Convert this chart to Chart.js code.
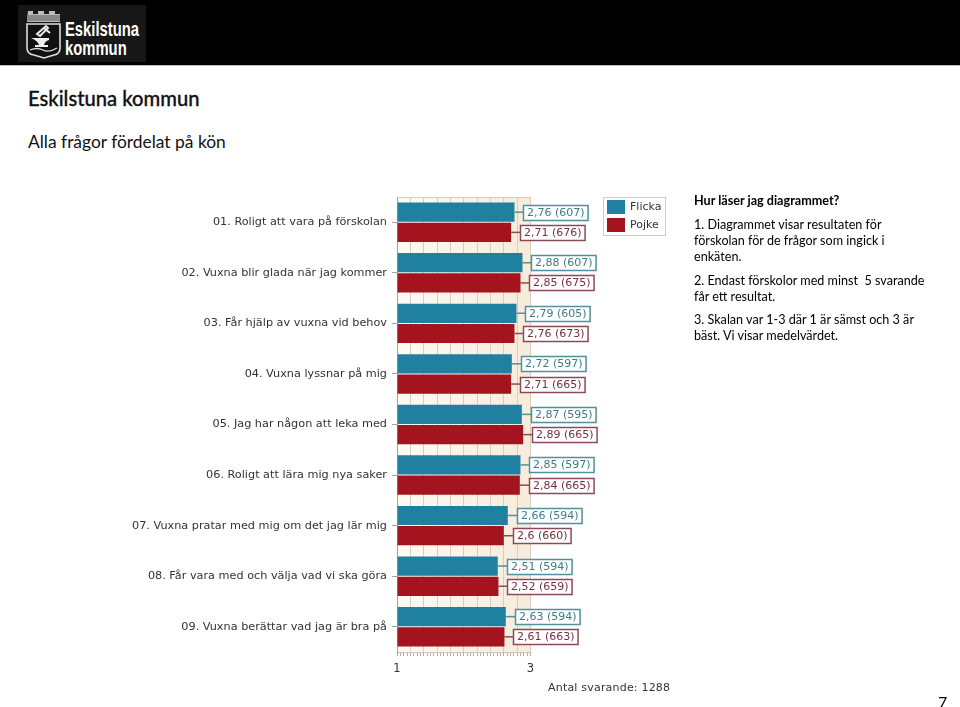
<!DOCTYPE html>
<html lang="sv">
<head>
<meta charset="utf-8">
<title>Eskilstuna kommun</title>
<script src="https://cdn.jsdelivr.net/npm/chart.js@4"></script>
<style>
html,body{margin:0;padding:0;background:#fff;width:960px;height:707px;overflow:hidden}
#hdr{position:absolute;left:0;top:0;width:960px;height:65px;background:#000;border-bottom:1px solid #bbb}
#logo{position:absolute;left:18px;top:5px;width:128px;height:57px;background:#171717}
#logo svg{position:absolute;left:4px;top:1px}
.lg{position:absolute;color:#fff;font-family:"Liberation Sans",sans-serif;font-weight:700;white-space:nowrap;transform-origin:0 0;transform:scaleX(.74)}
.t{position:absolute;font-family:Lato,sans-serif;color:#000;white-space:nowrap}
canvas{position:absolute;left:0;top:0}
#n{position:absolute;left:548px;top:681px;font:11px "DejaVu Sans",sans-serif;color:#333;white-space:nowrap;letter-spacing:.2px}
</style>
</head>
<body>
<div id="hdr"><div id="logo">
<svg width="42" height="55" viewBox="0 0 42 55">
<path d="M6 5h5v3h5V5h6v3h5V5h6v3h5V5v11H5z" fill="#bbb"/>
<rect x="5" y="9" width="33" height="6" fill="#888"/>
<path d="M5 18h33v24q0 6-6 7l-10 3-10-3q-7-1-7-7z" fill="#111" stroke="#ddd" stroke-width="1.6"/>
<path d="M9 32h18v2q-4 1-5 5h4v2H13v-2h4q-1-4-8-7z" fill="#eee"/>
<path d="M15 28l9-8 2 2-8 8zM22 22l6 5" stroke="#eee" stroke-width="2" fill="none"/>
<path d="M8 44q7-3 13 0t14-2" stroke="#ddd" stroke-width="1.3" fill="none"/>
</svg>
<div class="lg" style="left:47px;top:13px;font-size:20px;line-height:22px">Eskilstuna</div>
<div class="lg" style="left:47px;top:32px;font-size:20px;line-height:22px">kommun</div>
</div></div>
<div class="t" style="left:28px;top:85px;font-size:20.2px;line-height:26px;font-weight:500;color:#111;-webkit-text-stroke:.3px #111">Eskilstuna kommun</div>
<div class="t" style="left:28px;top:131px;font-size:17.4px;line-height:22px;color:#111">Alla frågor fördelat på kön</div>
<canvas id="c" width="960" height="707"></canvas>
<div id="n">Antal svarande: 1288</div>
<div class="t" style="left:694px;top:193px;font-size:12.6px;line-height:16px;font-weight:700">Hur läser jag diagrammet?</div>
<div class="t" style="left:694px;top:217px;font-size:12.6px;line-height:16px">1. Diagrammet visar resultaten för<br>förskolan för de frågor som ingick i<br>enkäten.</div>
<div class="t" style="left:694px;top:273px;font-size:12.6px;line-height:16px">2. Endast förskolor med minst &nbsp;5 svarande<br>får ett resultat.</div>
<div class="t" style="left:694px;top:312px;font-size:12.6px;line-height:16px">3. Skalan var 1-3 där 1 är sämst och 3 är<br>bäst. Vi visar medelvärdet.</div>
<div class="t" style="left:938px;top:692px;font-size:16px;line-height:20px">7</div>
<script>
const categories = [
  "01. Roligt att vara på förskolan",
  "02. Vuxna blir glada när jag kommer",
  "03. Får hjälp av vuxna vid behov",
  "04. Vuxna lyssnar på mig",
  "05. Jag har någon att leka med",
  "06. Roligt att lära mig nya saker",
  "07. Vuxna pratar med mig om det jag lär mig",
  "08. Får vara med och välja vad vi ska göra",
  "09. Vuxna berättar vad jag är bra på"
];
const flickaValues = [2.76, 2.88, 2.79, 2.72, 2.87, 2.85, 2.66, 2.51, 2.63];
const flickaCounts = [607, 607, 605, 597, 595, 597, 594, 594, 594];
const pojkeValues = [2.71, 2.85, 2.76, 2.71, 2.89, 2.84, 2.6, 2.52, 2.61];
const pojkeCounts = [676, 675, 673, 665, 665, 665, 660, 659, 663];
const axisLabels = {1: "1", 3: "3"};

const FONT = '"DejaVu Sans", sans-serif';
const styleOf = [
  {bar:'#20809f', line:'#4f919c', text:'#3c7c8a'},
  {bar:'#a3141f', line:'#8c4a58', text:'#74303f'}
];
const countsOf = [flickaCounts, pojkeCounts];

const plotBackground = {
  id:'plotBackground',
  beforeDraw(chart){
    const {ctx, chartArea:a} = chart;
    const g = ctx.createLinearGradient(a.left,0,a.right,0);
    g.addColorStop(0,'#fdfaf5');
    g.addColorStop(1,'#f7ebda');
    ctx.save();
    ctx.fillStyle = g;
    ctx.fillRect(a.left,a.top,a.right-a.left,a.bottom-a.top);
    ctx.fillStyle = '#d8cdbd';
    ctx.fillRect(a.left,a.top,a.right-a.left,1);
    ctx.restore();
  }
};

const valueBoxes = {
  id:'valueBoxes',
  afterDatasetsDraw(chart){
    const ctx = chart.ctx;
    ctx.save();
    ctx.font = '11px ' + FONT;
    ctx.textBaseline = 'middle';
    ctx.textAlign = 'left';
    chart.data.datasets.forEach((ds,di)=>{
      const st = styleOf[di];
      chart.getDatasetMeta(di).data.forEach((el,i)=>{
        const txt = String(ds.data[i]).replace('.',',') + ' (' + countsOf[di][i] + ')';
        const w = ctx.measureText(txt).width + 7;
        const h = 15;
        const x = Math.round(el.x) + 9.5;
        const y = Math.round(el.y - h/2) + .5;
        ctx.strokeStyle = st.line;
        ctx.lineWidth = 1.5;
        ctx.beginPath(); ctx.moveTo(el.x,el.y); ctx.lineTo(x,el.y); ctx.stroke();
        ctx.fillStyle = '#fff';
        ctx.fillRect(x,y,w,h);
        ctx.strokeRect(x,y,w,h);
        ctx.fillStyle = st.text;
        ctx.fillText(txt,x+3.5,y+h/2+.5);
      });
    });
    ctx.restore();
  }
};

const boxLegend = {
  id:'boxLegend',
  afterDraw(chart){
    const ctx = chart.ctx;
    ctx.save();
    ctx.fillStyle='#fff';
    ctx.strokeStyle='#ccc';
    ctx.lineWidth=1;
    ctx.fillRect(603.5,197.5,62,38);
    ctx.strokeRect(603.5,197.5,62,38);
    ctx.font='11px '+FONT;
    ctx.textBaseline='middle';
    ctx.textAlign='left';
    chart.data.datasets.forEach((ds,i)=>{
      const y=200+i*18;
      ctx.fillStyle=ds.backgroundColor;
      ctx.fillRect(607,y,18,14);
      ctx.fillStyle='#333';
      ctx.fillText(ds.label,630,y+7.5);
    });
    ctx.restore();
  }
};

new Chart(document.getElementById('c'),{
  type:'bar',
  data:{
    labels:categories,
    datasets:[
      {label:'Flicka',data:flickaValues,backgroundColor:styleOf[0].bar},
      {label:'Pojke',data:pojkeValues,backgroundColor:styleOf[1].bar}
    ]
  },
  options:{
    indexAxis:'y',
    responsive:false,
    animation:false,
    base:1,
    categoryPercentage:0.8,
    barPercentage:0.95,
    layout:{padding:{left:0,right:429.5,top:197,bottom:25}},
    plugins:{legend:{display:false},tooltip:{enabled:false},title:{display:false}},
    scales:{
      x:{
        type:'linear',min:1,max:3,
        afterFit(s){s.height=30;},
        border:{color:'#cfc6b8'},
        grid:{
          color(c){const v=Math.round((c.tick?c.tick.value:0)*100);return v%20===0?'#d9cebd':'rgba(0,0,0,0)';},
          tickColor:'#b5ab9f',tickLength:4,drawOnChartArea:true
        },
        ticks:{
          stepSize:0.05,autoSkip:false,maxRotation:0,minRotation:0,maxTicksLimit:60,padding:6,
          color:'#333',font:{family:FONT,size:11.5},
          callback(v){return axisLabels[Math.round(v*100)/100]||'';}
        }
      },
      y:{
        afterFit(s){s.width=397;},
        border:{color:'#a9a196'},
        grid:{drawOnChartArea:false,offset:false,tickColor:'#a9a196',tickLength:5},
        ticks:{autoSkip:false,padding:5,color:'#333',font:{family:FONT,size:11.25}}
      }
    }
  },
  plugins:[plotBackground,valueBoxes,boxLegend]
});
</script>
</body>
</html>
